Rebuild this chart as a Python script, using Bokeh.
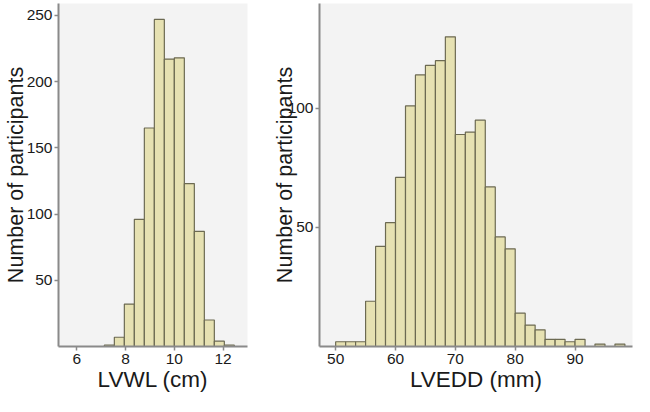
from bokeh.plotting import figure
from bokeh.models import ColumnDataSource, Range1d, FixedTicker
from bokeh.layouts import row
from bokeh.embed import file_html
from bokeh.resources import INLINE

# ---- data ----
lvwl_edges = [7.13, 7.54, 7.95, 8.36, 8.77, 9.18, 9.59, 10.0, 10.41, 10.82,
              11.23, 11.64, 12.05, 12.46]
lvwl_counts = [1, 7, 32, 96, 165, 247, 217, 218, 123, 87, 20, 4, 1]

lvedd_edges = [50, 51.67, 53.33, 55, 56.67, 58.33, 60, 61.67, 63.33, 65,
               66.67, 68.33, 70, 71.67, 73.33, 75, 76.67, 78.33, 80, 81.67,
               83.33, 85, 86.67, 88.33, 90, 91.67, 93.33, 95, 96.67, 98.33]
lvedd_counts = [2, 2, 2, 19, 42, 52, 71, 101, 114, 118, 120, 130, 89, 90, 95,
                67, 46, 41, 14, 9, 7, 3, 3, 2, 3, 0, 1, 0, 1]

lvwl_xticks = [6, 8, 10, 12]
lvwl_yticks = [50, 100, 150, 200, 250]
lvedd_xticks = [50, 60, 70, 80, 90]
lvedd_yticks = [50, 100]

FONT = "Liberation Sans"
BAR_FILL = "#e6e1b2"
BAR_LINE = "#6c6a52"
AXIS_COL = "#8a8a8a"


def hist_source(edges, counts):
    left, right, top = [], [], []
    for i, c in enumerate(counts):
        if c > 0:
            left.append(edges[i])
            right.append(edges[i + 1])
            top.append(c)
    return ColumnDataSource(dict(left=left, right=right, top=top,
                                 bottom=[0] * len(top)))


def style(p, xticks, yticks, xlabel, ylabel, ytick_standoff, ylabel_standoff):
    p.background_fill_color = "#f3f3f3"
    p.border_fill_color = "white"
    p.outline_line_color = None
    p.xgrid.visible = False
    p.ygrid.visible = False
    for ax in (p.xaxis[0], p.yaxis[0]):
        ax.axis_line_color = AXIS_COL
        ax.axis_line_width = 2
        ax.major_tick_line_color = AXIS_COL
        ax.major_tick_line_width = 1.5
        ax.major_tick_out = 4
        ax.major_tick_in = 0
        ax.minor_tick_line_color = None
        ax.major_label_text_font = FONT
        ax.major_label_text_font_size = "15.5px"
        ax.major_label_text_color = "#1a1a1a"
        ax.axis_label_text_font = FONT
        ax.axis_label_text_font_style = "normal"
        ax.axis_label_text_color = "#1a1a1a"
    p.xaxis[0].major_label_standoff = 3
    p.yaxis[0].major_label_standoff = ytick_standoff
    p.xaxis[0].axis_label_text_font_size = "22.5px"
    p.yaxis[0].axis_label_text_font_size = "21.5px"
    p.xaxis[0].ticker = FixedTicker(ticks=xticks)
    p.yaxis[0].ticker = FixedTicker(ticks=yticks)
    p.xaxis[0].axis_label = xlabel
    p.yaxis[0].axis_label = ylabel
    p.xaxis[0].axis_label_standoff = 0
    p.yaxis[0].axis_label_standoff = ylabel_standoff


p1 = figure(width=248, height=396, output_backend="svg", toolbar_location=None,
            x_range=Range1d(5.25, 13.0), y_range=Range1d(0, 259),
            min_border_left=57, min_border_right=1, min_border_top=3,
            min_border_bottom=50)
p1.quad(left="left", right="right", top="top", bottom="bottom",
        source=hist_source(lvwl_edges, lvwl_counts),
        fill_color=BAR_FILL, line_color=BAR_LINE, line_width=1.2)
style(p1, lvwl_xticks, lvwl_yticks, "LVWL (cm)", "Number of participants", 2, -4)

p2 = figure(width=386, height=396, output_backend="svg", toolbar_location=None,
            x_range=Range1d(47.3, 99.6), y_range=Range1d(0, 144),
            min_border_left=71, min_border_right=2, min_border_top=3,
            min_border_bottom=50)
p2.quad(left="left", right="right", top="top", bottom="bottom",
        source=hist_source(lvedd_edges, lvedd_counts),
        fill_color=BAR_FILL, line_color=BAR_LINE, line_width=1.2)
style(p2, lvedd_xticks, lvedd_yticks, "LVEDD (mm)", "Number of participants", 2, -12)

layout = row(p1, p2)
open("out.html", "w").write(file_html(layout, INLINE))
